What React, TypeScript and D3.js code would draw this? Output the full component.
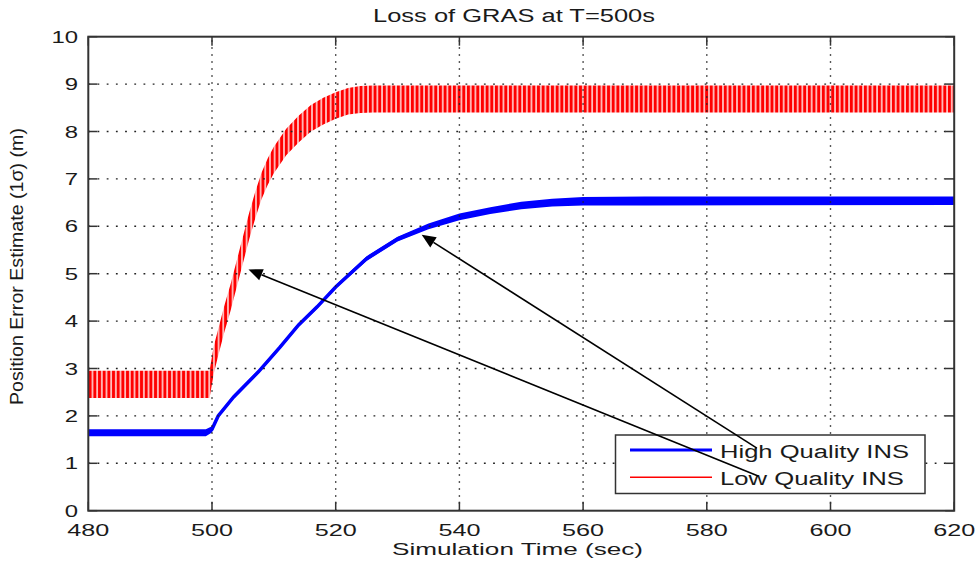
import React from "react"
import * as d3 from "d3"

// chart values
const xTicks = [480, 500, 520, 540, 560, 580, 600, 620]
const yTicks = [0, 1, 2, 3, 4, 5, 6, 7, 8, 9, 10]

// high quality INS: centre line and thickness of the drawn band
const blueTime = [480, 499, 500, 501, 503.5, 507.5, 511, 514, 517, 520, 525, 530, 535, 540, 545, 550, 555, 560, 570, 620]
const blueMid = [1.65, 1.65, 1.72, 2.0, 2.4, 2.93, 3.45, 3.92, 4.3, 4.72, 5.32, 5.73, 6.0, 6.2, 6.33, 6.44, 6.5, 6.53, 6.54, 6.54]
const blueLo = [1.57, 1.57, 1.65, 1.96, 2.36, 2.89, 3.41, 3.88, 4.26, 4.68, 5.27, 5.68, 5.94, 6.13, 6.26, 6.36, 6.42, 6.44, 6.44, 6.45]
const blueHi = [1.72, 1.72, 1.78, 2.04, 2.44, 2.97, 3.49, 3.96, 4.34, 4.76, 5.37, 5.78, 6.06, 6.27, 6.4, 6.52, 6.58, 6.62, 6.63, 6.63]

// low quality INS: lower / upper edge of the oscillation
const redTime = [480, 499.6, 500.3, 501, 502, 503, 504, 505, 506, 507, 508, 509, 510, 512, 514, 516, 518, 520, 522, 524, 526, 528, 530, 620]
const redLo = [2.38, 2.38, 2.9, 3.27, 3.77, 4.22, 4.72, 5.22, 5.72, 6.17, 6.57, 6.87, 7.12, 7.5, 7.77, 8.0, 8.15, 8.27, 8.36, 8.39, 8.4, 8.4, 8.4, 8.4]
const redHi = [2.95, 2.95, 3.48, 3.83, 4.33, 4.78, 5.28, 5.78, 6.28, 6.73, 7.13, 7.43, 7.68, 8.06, 8.33, 8.56, 8.71, 8.83, 8.92, 8.96, 8.97, 8.97, 8.97, 8.97]

const legendLabels = ["High Quality INS", "Low Quality INS"]
const legendColors = ["#0000ff", "#ff0000"]

// annotation arrows (data coords): from legend entry to curve
const arrowFrom = [[588.1, 1.32], [588.3, 0.73]]
const arrowTo = [[533.9, 5.82], [505.9, 5.09]]

const W = 976
const H = 562
const FONT = "'Liberation Sans', Arial, sans-serif"
const INK = "#1a1a1a"

const App = () => {
    const x = d3.scaleLinear().domain([480, 620]).range([88.3, 954.2])
    const y = d3.scaleLinear().domain([0, 10]).range([510.7, 36.7])
    const [x0, x1] = x.range()
    const [y0, y1] = y.range()
    const tickLen = 9

    const blueBand = d3.area<number>()
        .x((d, i) => x(blueTime[i]))
        .y0((d, i) => y(blueLo[i]))
        .y1((d, i) => y(blueHi[i]))
    const blueLine = d3.line<number>()
        .x((d, i) => x(blueTime[i]))
        .y(d => y(d))
    const redBand = d3.area<number>()
        .x((d, i) => x(redTime[i]))
        .y0((d, i) => y(redLo[i]))
        .y1((d, i) => y(redHi[i]))

    // arrowhead polygons
    const arrows = arrowFrom.map((f, i) => {
        const sx = x(f[0]), sy = y(f[1])
        const tx = x(arrowTo[i][0]), ty = y(arrowTo[i][1])
        const a = Math.atan2(ty - sy, tx - sx)
        const len = 14, half = 6
        const bx = tx - len * Math.cos(a), by = ty - len * Math.sin(a)
        const px = -Math.sin(a) * half, py = Math.cos(a) * half
        return { sx, sy, bx, by, head: `${tx},${ty} ${bx + px},${by + py} ${bx - px},${by - py}` }
    })

    return (
        <svg width={W} height={H} style={{ position: "absolute", left: 0, top: 0, background: "#fff" }}>
            <defs>
                <clipPath id="plotClip">
                    <rect x={x0} y={y1} width={x1 - x0} height={y0 - y1} />
                </clipPath>
                <pattern id="redTeeth" patternUnits="userSpaceOnUse" width={4.67} height={40}>
                    <rect x={0} y={0} width={2.9} height={40} fill="#ff0000" />
                    <rect x={2.9} y={0} width={0.5} height={40} fill="#ff8080" />
                    <rect x={4.2} y={0} width={0.47} height={40} fill="#ff8080" />
                </pattern>
            </defs>

            <rect x={x0} y={y1} width={x1 - x0} height={y0 - y1} fill="#fff" />

            <g clipPath="url(#plotClip)">
                <path d={redBand(redLo) ?? ""} fill="url(#redTeeth)" />
                <path d={blueBand(blueMid) ?? ""} fill="#0000ff" />
                <path d={blueLine(blueMid) ?? ""} fill="none" stroke="#0000ff" strokeWidth={3.5} />
            </g>

            {/* dotted grid */}
            <g stroke="#222" strokeWidth={1.4}>
                {xTicks.slice(1, -1).map(t => (
                    <line key={"gx" + t} x1={x(t)} x2={x(t)} y1={y0} y2={y1} strokeDasharray="1.5 5.5" />
                ))}
                {yTicks.slice(1, -1).map(t => (
                    <line key={"gy" + t} x1={x0} x2={x1} y1={y(t)} y2={y(t)} strokeDasharray="1.8 7.4" />
                ))}
            </g>

            {/* ticks on all four sides */}
            <g stroke="#333" strokeWidth={1.5}>
                {xTicks.map(t => (
                    <g key={"tx" + t}>
                        <line x1={x(t)} x2={x(t)} y1={y0} y2={y0 - tickLen} />
                        <line x1={x(t)} x2={x(t)} y1={y1} y2={y1 + tickLen} />
                    </g>
                ))}
                {yTicks.map(t => (
                    <g key={"ty" + t}>
                        <line x1={x0} x2={x0 + tickLen} y1={y(t)} y2={y(t)} />
                        <line x1={x1} x2={x1 - tickLen} y1={y(t)} y2={y(t)} />
                    </g>
                ))}
            </g>
            <rect x={x0} y={y1} width={x1 - x0} height={y0 - y1} fill="none" stroke="#333" strokeWidth={2} />

            {/* tick labels */}
            <g fontFamily={FONT} fontSize={16} fill={INK}>
                {xTicks.map(t => (
                    <text key={"lx" + t} x={x(t)} y={535.5} textAnchor="middle"
                        textLength={42} lengthAdjust="spacingAndGlyphs">{t}</text>
                ))}
                {yTicks.map(t => (
                    <text key={"ly" + t} x={78} y={y(t) + 6} textAnchor="end"
                        textLength={String(t).length * 13.3} lengthAdjust="spacingAndGlyphs">{t}</text>
                ))}
            </g>

            {/* title and axis labels */}
            <text x={514} y={22} textAnchor="middle" fontFamily={FONT} fontSize={18} fill={INK}
                textLength={282} lengthAdjust="spacingAndGlyphs">Loss of GRAS at T=500s</text>
            <text x={517.5} y={555} textAnchor="middle" fontFamily={FONT} fontSize={17} fill={INK}
                textLength={251} lengthAdjust="spacingAndGlyphs">Simulation Time (sec)</text>
            <text transform={`translate(23, ${266.5}) rotate(-90)`} textAnchor="middle" fontFamily={FONT}
                fontSize={18} fill={INK} textLength={277} lengthAdjust="spacingAndGlyphs">
                Position Error Estimate (1σ) (m)
            </text>

            {/* legend */}
            <rect x={615.5} y={435} width={309.5} height={58.5} fill="#fff" stroke="#333" strokeWidth={1.5} />
            {legendLabels.map((lab, i) => (
                <g key={lab}>
                    <line x1={630} x2={712} y1={450 + i * 27.3} y2={450 + i * 27.3}
                        stroke={legendColors[i]} strokeWidth={i === 0 ? 3 : 1.5} />
                    <text x={720} y={458.3 + i * 26.7} fontFamily={FONT} fontSize={18} fill={INK}
                        textLength={i === 0 ? 189 : 184} lengthAdjust="spacingAndGlyphs">{lab}</text>
                </g>
            ))}

            {/* annotation arrows */}
            {arrows.map((a, i) => (
                <g key={"ar" + i}>
                    <line x1={a.sx} y1={a.sy} x2={a.bx} y2={a.by} stroke="#000" strokeWidth={1.6} />
                    <polygon points={a.head} fill="#000" />
                </g>
            ))}
        </svg>
    )
}

export default App
